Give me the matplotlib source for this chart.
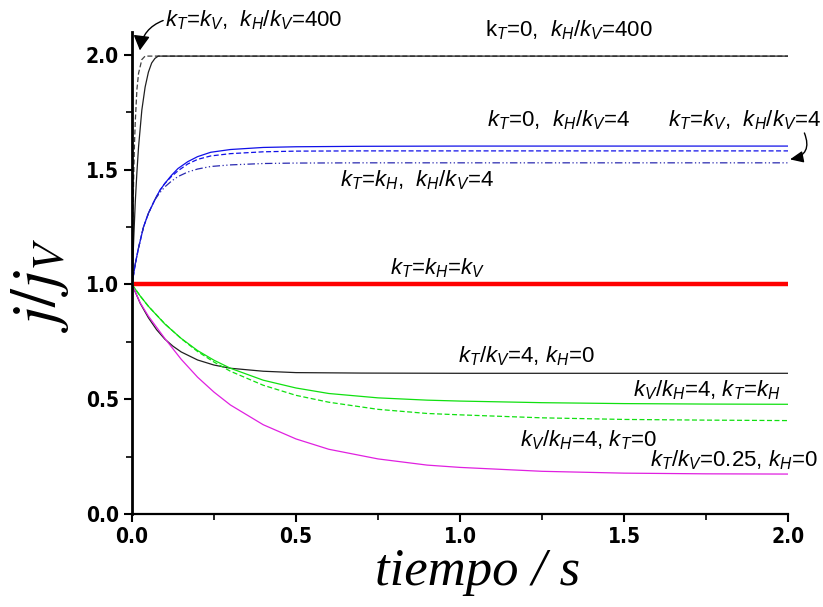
import matplotlib
matplotlib.use("Agg")
import matplotlib.pyplot as plt

plt.rcParams['mathtext.fontset'] = 'custom'
plt.rcParams['mathtext.it'] = 'Liberation Sans:italic'
plt.rcParams['mathtext.rm'] = 'Liberation Sans'
plt.rcParams['mathtext.sf'] = 'Liberation Sans'

# ---- data ----
t_fast_solid = [0, 0.005, 0.01, 0.015, 0.02, 0.03, 0.04, 0.05, 0.06, 0.07, 0.08, 2.0]
y_fast_solid = [1.0, 1.19, 1.36, 1.49, 1.60, 1.76, 1.86, 1.925, 1.965, 1.985, 1.995, 1.995]

t_fast_dash = [0, 0.0025, 0.005, 0.0075, 0.01, 0.015, 0.02, 0.03, 0.04, 2.0]
y_fast_dash = [1.0, 1.27, 1.46, 1.61, 1.71, 1.85, 1.92, 1.98, 1.995, 1.995]

t_blue = [0, 0.01, 0.02, 0.035, 0.05, 0.07, 0.085, 0.1, 0.12, 0.14, 0.17, 0.2, 0.24, 0.3, 0.4, 0.5, 0.7, 1.0, 2.0]
y_blue_solid = [1.0, 1.09, 1.16, 1.25, 1.31, 1.37, 1.41, 1.44, 1.475, 1.505, 1.535, 1.557, 1.576, 1.588, 1.597, 1.600, 1.602, 1.603, 1.603]
y_blue_dash = [1.0, 1.09, 1.16, 1.25, 1.31, 1.37, 1.41, 1.44, 1.47, 1.495, 1.525, 1.545, 1.560, 1.570, 1.578, 1.581, 1.582, 1.582, 1.582]
y_blue_dashdot = [1.0, 1.09, 1.16, 1.25, 1.31, 1.37, 1.40, 1.425, 1.45, 1.47, 1.49, 1.503, 1.514, 1.521, 1.527, 1.529, 1.530, 1.530, 1.530]

t_red = [0.012, 2.0]
y_red = [1.0, 1.0]

t_black = [0, 0.025, 0.05, 0.075, 0.1, 0.125, 0.15, 0.2, 0.25, 0.3, 0.4, 0.5, 0.7, 1.0, 2.0]
y_black = [1.0, 0.918, 0.855, 0.803, 0.762, 0.731, 0.706, 0.671, 0.649, 0.635, 0.622, 0.616, 0.614, 0.613, 0.613]

t_low = [0, 0.025, 0.05, 0.1, 0.15, 0.2, 0.25, 0.3, 0.4, 0.5, 0.6, 0.75, 0.9, 1.0, 1.25, 1.5, 1.75, 2.0]
y_green_solid = [1.0, 0.95, 0.905, 0.828, 0.765, 0.712, 0.670, 0.635, 0.583, 0.549, 0.525, 0.506, 0.496, 0.492, 0.485, 0.481, 0.479, 0.478]
y_green_dash = [1.0, 0.95, 0.905, 0.829, 0.764, 0.708, 0.662, 0.622, 0.561, 0.517, 0.487, 0.456, 0.438, 0.432, 0.419, 0.412, 0.409, 0.407]
y_magenta = [1.0, 0.92, 0.862, 0.765, 0.674, 0.596, 0.531, 0.475, 0.389, 0.327, 0.282, 0.240, 0.213, 0.203, 0.186, 0.178, 0.175, 0.174]

xticks = [0.0, 0.5, 1.0, 1.5, 2.0]
yticks = [0.0, 0.5, 1.0, 1.5, 2.0]

fig = plt.figure(figsize=(8.23, 6.07), dpi=100)
ax = fig.add_axes([132/823, 93/607, 656/823, 482/607])

ax.plot(t_fast_dash, y_fast_dash, color='#404040', lw=0.9, ls=(0, (4, 2)))
ax.plot(t_fast_solid, y_fast_solid, color='#202020', lw=0.9)
ax.plot(t_blue, y_blue_solid, color='#1010e8', lw=0.9)
ax.plot(t_blue, y_blue_dash, color='#1010e8', lw=0.9, ls=(0, (4, 2)))
ax.plot(t_blue, y_blue_dashdot, color='#2a2ab0', lw=0.9, ls=(0, (6, 2, 1, 2, 1, 2)))
ax.plot(t_red, y_red, color='#ff0000', lw=3.2)
ax.plot(t_black, y_black, color='#202020', lw=0.9)
ax.plot(t_low, y_green_solid, color='#10e010', lw=0.9)
ax.plot(t_low, y_green_dash, color='#10e010', lw=0.9, ls=(0, (4, 2)))
ax.plot(t_low, y_magenta, color='#e020e0', lw=0.9)

ax.set_xlim(0, 2.0)
ax.set_ylim(0, 2.1)
for s in ['top', 'right']:
    ax.spines[s].set_visible(False)
ax.spines['left'].set_linewidth(2.0)
ax.spines['bottom'].set_linewidth(1.6)
ax.set_xticks(xticks)
ax.set_yticks(yticks)
ax.set_xticks([0.25, 0.75, 1.25, 1.75], minor=True)
ax.set_yticks([0.25, 0.75, 1.25, 1.75], minor=True)
ax.tick_params(which='major', direction='out', length=6, width=1.5)
ax.tick_params(which='minor', direction='out', length=4, width=1.2)
ax.set_xticklabels([f'{v:.1f}' for v in xticks], fontfamily='DejaVu Sans', fontstretch='condensed',
                   fontweight='bold', fontsize=15)
ax.set_yticklabels([f'{v:.1f}' for v in yticks], fontfamily='DejaVu Sans', fontstretch='condensed',
                   fontweight='bold', fontsize=15)

ax.text(0.527, -0.12, 'tiempo / s', transform=ax.transAxes, ha='center', va='center',
        fontfamily='Liberation Serif', style='italic', fontsize=38)
ax.text(-0.14, 0.475, r'$j/j_V$', transform=ax.transAxes, ha='center', va='center',
        rotation=90, fontsize=46, math_fontfamily='stix')

lab = dict(fontsize=16, fontfamily='Liberation Sans', ha='left', va='center', clip_on=False)
ax.text(0.10, 2.15, r'$k_T$=$k_V$,  $k_H/k_V$=400', **lab)
ax.text(1.076, 2.11, r'k$_T$=$\mathit{0}$,  $k_H/k_V$=400', **lab)
ax.text(1.082, 1.717, r'$k_T$=$\mathit{0}$,  $k_H/k_V$=4', **lab)
ax.text(1.634, 1.717, r'$k_T$=$k_V$,  $k_H/k_V$=4', **lab)
ax.text(0.634, 1.455, r'$k_T$=$k_H$,  $k_H/k_V$=4', **lab)
ax.text(0.787, 1.072, r'$k_T$=$k_H$=$k_V$', **lab)
ax.text(0.994, 0.688, r'$k_T/k_V$=4, $k_H$=0', **lab)
ax.text(1.527, 0.540, r'$k_V/k_H$=4, $k_T$=$k_H$', **lab)
ax.text(1.183, 0.322, r'$k_V/k_H$=4, $k_T$=$\mathit{0}$', **lab)
ax.text(1.579, 0.235, r'$k_T/k_V$=0.25, $k_H$=0', **lab)

ax.annotate('', xy=(0.024, 2.02), xytext=(0.095, 2.15), annotation_clip=False,
            arrowprops=dict(arrowstyle='-|>,head_length=0.9,head_width=0.5', color='black',
                            lw=1.0, connectionstyle='arc3,rad=0.3', shrinkA=0, shrinkB=0))
ax.annotate('', xy=(2.006, 1.545), xytext=(2.05, 1.66), annotation_clip=False,
            arrowprops=dict(arrowstyle='-|>,head_length=0.8,head_width=0.35', color='black',
                            lw=1.0, connectionstyle='arc3,rad=-0.6', shrinkA=0, shrinkB=0))

fig.savefig('out.png', dpi=100)
